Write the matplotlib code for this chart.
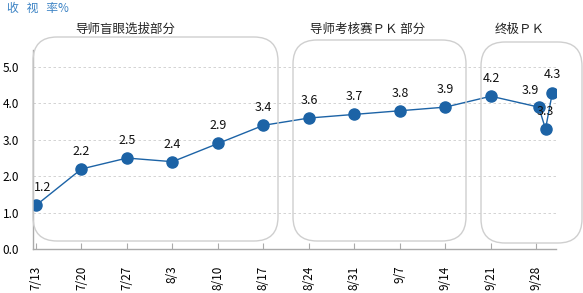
import matplotlib
matplotlib.use("Agg")
import matplotlib.pyplot as plt
from matplotlib.patches import FancyBboxPatch

plt.rcParams['font.family'] = ['Noto Sans CJK SC', 'DejaVu Sans']

# data
weeks = ["7/13", "7/20", "7/27", "8/3", "8/10", "8/17", "8/24", "8/31", "9/7", "9/14", "9/21", "9/28"]
x_pos = [0, 1, 2, 3, 4, 5, 6, 7, 8, 9, 10, 11.05, 11.2, 11.35]
ratings = [1.2, 2.2, 2.5, 2.4, 2.9, 3.4, 3.6, 3.7, 3.8, 3.9, 4.2, 3.9, 3.3, 4.3]
sections = ["导师盲眼选拔部分", "导师考核赛ＰＫ 部分", "终极ＰＫ"]

W, H = 583, 293
fig = plt.figure(figsize=(W / 100, H / 100), dpi=100)

def fx(px):
    return px / W

def fy(py):
    return 1 - py / H

ax = fig.add_axes([fx(33), fy(249), fx(556) - fx(33), fy(50) - fy(249)])
ax.set_facecolor("none")

blue = "#1c63a6"
ax.plot(x_pos, ratings, color=blue, lw=1, marker="o", ms=8, mec=blue, mfc=blue, zorder=5)

# value labels
for i, (x, v) in enumerate(zip(x_pos, ratings)):
    dx, dy = 0, 8
    if i == 0:
        dx = 5
    if i == 11:
        dx, dy = -6, 7
    ax.annotate(f"{v:.1f}", (x, v), xytext=(dx, dy), textcoords="offset points",
                ha="center", va="bottom", fontsize=9, color="#111111", zorder=6)

ax.set_xlim(-0.066, 11.43)
ax.set_ylim(0, 5.47)
ax.set_yticks([0, 1, 2, 3, 4, 5])
ax.set_yticklabels([f"{v:.1f}" for v in [0, 1, 2, 3, 4, 5]])
ax.set_xticks(range(len(weeks)))
ax.set_xticklabels(weeks, rotation=90)
ax.tick_params(axis="x", direction="in", length=4, color="#aaaaaa", labelsize=8.5, pad=12)
ax.tick_params(axis="y", length=0, labelsize=8.5, pad=10)
for v in [1, 2, 3, 4, 5]:
    ax.axhline(v, color="#cccccc", lw=0.6, ls=(0, (3, 3)), zorder=1)
for s in ["top", "right"]:
    ax.spines[s].set_visible(False)
for s in ["left", "bottom"]:
    ax.spines[s].set_color("#aaaaaa")
    ax.spines[s].set_linewidth(1)

# rounded section boxes (pixel coords, y from top)
boxes = [(33, 37, 278, 241), (293, 40, 466, 241), (481, 42, 582, 243)]
for (x0, y0, x1, y1) in boxes:
    r = 24
    p = FancyBboxPatch((x0 + r, H - y1 + r), (x1 - x0) - 2 * r, (y1 - y0) - 2 * r,
                       boxstyle=f"round,pad={r}", transform=None,
                       fc="none", ec="#cfcfcf", lw=1, zorder=2)
    fig.patches.append(p)

fig.text(fx(125), fy(29), sections[0], ha="center", va="center", fontsize=9, color="#222222")
fig.text(fx(368), fy(29), sections[1], ha="center", va="center", fontsize=9, color="#222222")
fig.text(fx(520), fy(29), sections[2], ha="center", va="center", fontsize=9, color="#222222")

fig.text(fx(7), fy(8), "收   视   率%", ha="left", va="center", fontsize=8.5, color="#3b82c4")

fig.savefig("out.png", dpi=100)
